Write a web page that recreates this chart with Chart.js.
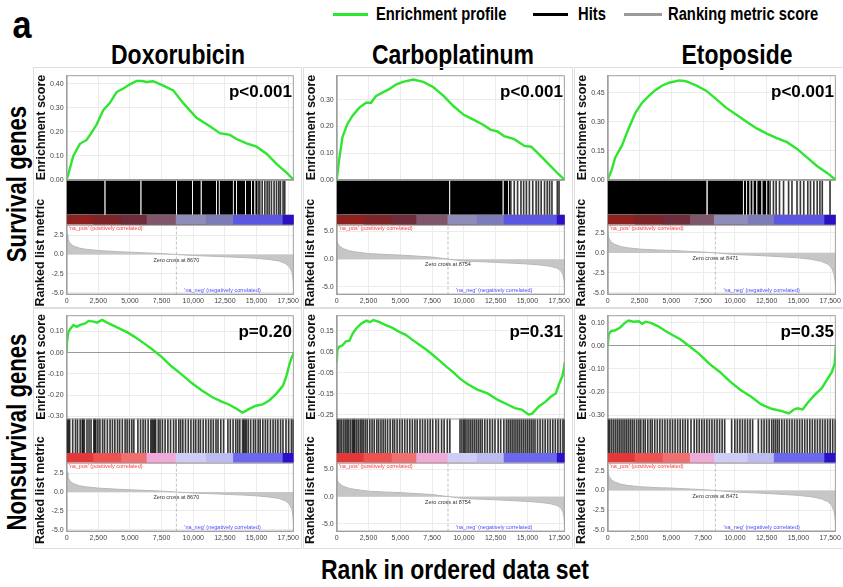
<!DOCTYPE html>
<html>
<head>
<meta charset="utf-8">
<script src="https://cdn.jsdelivr.net/npm/chart.js@4.4.1/dist/chart.umd.min.js"></script>
<style>
  body { margin: 0; background: #fff; }
  #fig { position: relative; width: 843px; height: 587px; overflow: hidden; font-family: 'Liberation Sans', Arial, sans-serif; }
  .lbl { position: absolute; font-weight: bold; white-space: nowrap; color: #000; line-height: 1; }
  .key { position: absolute; height: 3px; }
  canvas { position: absolute; outline: 1px solid #dedede; }
</style>
</head>
<body>
<div id="fig"></div>
<script>
// ---- labels ----
const drugNames = ['Doxorubicin', 'Carboplatinum', 'Etoposide'];
const rowNames = ['Survival genes', 'Nonsurvival genes'];
const pSurvival = ['p<0.001', 'p<0.001', 'p<0.001'];
const pNonsurvival = ['p=0.20', 'p=0.31', 'p=0.35'];
const zeroCross = [8670, 8754, 8471];
const rankLimit = 17950;
const xTicks = [0, 2500, 5000, 7500, 10000, 12500, 15000, 17500];

// ---- enrichment profiles (rank, score) ----
const doxoSurvRank = [0, 130, 526, 1050, 1580, 1850, 2370, 2895, 3420, 3950, 4480, 5000, 5530, 5950, 6315, 6840, 7600, 8420, 9200, 10260, 11315, 12100, 12900, 13420, 14210, 15000, 15790, 16580, 17370, 17950];
const doxoSurvES = [0, 0.024, 0.10, 0.15, 0.166, 0.187, 0.23, 0.29, 0.32, 0.365, 0.38, 0.397, 0.411, 0.411, 0.407, 0.41, 0.393, 0.372, 0.32, 0.258, 0.223, 0.194, 0.187, 0.17, 0.152, 0.138, 0.109, 0.067, 0.03, 0];
const carboSurvRank = [0, 186, 450, 848, 1246, 1777, 2306, 2700, 3100, 3630, 4160, 4693, 5222, 6017, 6812, 7608, 8403, 9200, 9995, 10790, 11585, 12115, 12645, 13175, 13970, 14766, 15296, 15826, 16621, 17416, 17950];
const carboSurvES = [0, 0.075, 0.16, 0.21, 0.24, 0.27, 0.288, 0.288, 0.314, 0.327, 0.34, 0.357, 0.366, 0.375, 0.366, 0.346, 0.314, 0.275, 0.243, 0.224, 0.204, 0.187, 0.181, 0.163, 0.152, 0.127, 0.124, 0.10, 0.062, 0.023, 0];
const etopSurvRank = [0, 53, 318, 583, 1113, 1643, 2174, 2704, 3234, 3764, 4294, 4825, 5620, 6150, 6945, 7741, 8536, 9331, 10127, 10922, 11717, 12513, 13308, 14104, 14899, 15694, 16490, 17285, 17950];
const etopSurvES = [0, 0.009, 0.053, 0.115, 0.177, 0.266, 0.346, 0.399, 0.434, 0.465, 0.488, 0.502, 0.514, 0.51, 0.488, 0.461, 0.417, 0.372, 0.337, 0.301, 0.266, 0.239, 0.216, 0.195, 0.16, 0.115, 0.071, 0.035, 0];
const doxoNonRank = [0, 30, 134, 267, 534, 801, 1068, 1469, 1736, 2136, 2403, 2804, 3205, 3739, 4274, 4808, 5342, 6143, 6677, 7478, 8280, 9081, 9882, 10684, 11485, 12286, 12820, 13354, 13888, 14155, 14423, 14957, 15491, 16025, 16559, 17093, 17360, 17627, 17761, 17950];
const doxoNonES = [0, 0.05, 0.096, 0.111, 0.131, 0.122, 0.131, 0.138, 0.15, 0.147, 0.142, 0.155, 0.142, 0.127, 0.111, 0.096, 0.076, 0.043, 0.02, -0.018, -0.064, -0.102, -0.143, -0.178, -0.209, -0.232, -0.244, -0.262, -0.282, -0.274, -0.265, -0.25, -0.244, -0.224, -0.194, -0.155, -0.11, -0.049, -0.026, 0];
const carboNonRank = [0, 54, 188, 456, 725, 993, 1262, 1531, 1934, 2336, 2605, 2873, 3276, 3813, 4350, 4887, 5424, 5961, 6498, 7035, 7572, 8109, 8646, 9183, 9720, 10257, 11062, 11868, 12673, 13479, 14015, 14552, 15089, 15358, 15895, 16432, 16835, 17237, 17506, 17774, 17950];
const carboNonES = [0, 0.06, 0.073, 0.08, 0.099, 0.102, 0.137, 0.16, 0.184, 0.197, 0.19, 0.2, 0.192, 0.177, 0.164, 0.145, 0.13, 0.106, 0.083, 0.06, 0.034, 0.006, -0.022, -0.048, -0.079, -0.102, -0.13, -0.148, -0.179, -0.202, -0.218, -0.225, -0.248, -0.245, -0.21, -0.187, -0.164, -0.148, -0.102, -0.063, 0];
const etopNonRank = [0, 81, 271, 543, 950, 1357, 1628, 2035, 2442, 2714, 2985, 3392, 3935, 4478, 5020, 5699, 6377, 7191, 8006, 8820, 9634, 10448, 11262, 12076, 12890, 13704, 14246, 14654, 14925, 15332, 15739, 16282, 16825, 17232, 17639, 17850, 17950];
const etopNonES = [0, 0.049, 0.064, 0.066, 0.078, 0.099, 0.109, 0.104, 0.106, 0.095, 0.104, 0.099, 0.085, 0.066, 0.049, 0.028, 0, -0.035, -0.078, -0.113, -0.155, -0.191, -0.219, -0.253, -0.272, -0.282, -0.292, -0.275, -0.27, -0.275, -0.246, -0.212, -0.184, -0.148, -0.113, -0.078, 0];

// enrichment score axis ranges and ticks
const esRangeSurv = [[0, 0.435], [0, 0.391], [0, 0.541]];
const esRangeNon = [[-0.31, 0.177], [-0.267, 0.223], [-0.314, 0.132]];
const doxoSurvTicks = [0, 0.05, 0.10, 0.15, 0.20, 0.25, 0.30, 0.35, 0.40];
const carboSurvTicks = [0, 0.05, 0.10, 0.15, 0.20, 0.25, 0.30, 0.35];
const etopSurvTicks = [0, 0.05, 0.10, 0.15, 0.20, 0.25, 0.30, 0.35, 0.40, 0.45, 0.50];
const doxoNonTicks = [-0.30, -0.25, -0.20, -0.15, -0.10, -0.05, 0, 0.05, 0.10, 0.15];
const carboNonTicks = [-0.25, -0.20, -0.15, -0.10, -0.05, 0, 0.05, 0.10, 0.15, 0.20];
const etopNonTicks = [-0.30, -0.25, -0.20, -0.15, -0.10, -0.05, 0, 0.05, 0.10];

// ---- hits ----
const doxoSurvBlocks = [[0, 3000], [3060, 5840], [5900, 8660], [8720, 9920], [9980, 10600], [10660, 11820], [11880, 12030], [12080, 13140], [13190, 13400], [13450, 14100], [14160, 14580], [14640, 14840], [14900, 15050]];
const doxoSurvLines = [15130, 15260, 15450, 15660, 15840, 16000, 16180, 16390, 16580, 16760, 16890, 17100, 17230];
const carboSurvBlocks = [[0, 8860], [8920, 13060], [13120, 13500], [13550, 13650]];
const carboSurvLines = [13700, 13966, 14230, 14495, 14707, 14920, 15158, 15423, 15688, 15873, 16085, 16350, 16563, 16748, 16934, 17357, 17490];
const etopSurvBlocks = [[0, 7780], [7850, 10640], [10700, 10900], [10960, 11160], [11220, 11400], [11460, 11700], [11760, 12100], [12160, 12480], [12540, 12700]];
const etopSurvLines = [12773, 13038, 13250, 13515, 13833, 14230, 14496, 14893, 15158, 15423, 15741, 15953, 16218, 16483, 16695, 16880, 17490];
const doxoNonLines = [60, 150, 240, 480, 700, 860, 1070, 1230, 1300, 1400, 1610, 1770, 1930, 2150, 2230, 2310, 2470, 2630, 2840, 3000, 3220, 3430, 3620, 3810, 4020, 4190, 4400, 4620, 4780, 4960, 5150, 5310, 5630, 5840, 6040, 6220, 6440, 6650, 6750, 6850, 6950, 7030, 7240, 7380, 7570, 7780, 8000, 8210, 8450, 8640, 8860, 9010, 9180, 9390, 9610, 9820, 10030, 10200, 10410, 10570, 10790, 11000, 11210, 11400, 11590, 11800, 11960, 12180, 12400, 12740, 12930, 13150, 13360, 13520, 13680, 13900, 14000, 14100, 14200, 14350, 14540, 14760, 14920, 15130, 15290, 15500, 15700, 15880, 16100, 16310, 16500, 16690, 16900, 17090, 17330, 17540, 17760, 17900];
const carboNonLines = [40, 130, 260, 400, 560, 700, 820, 950, 1100, 1250, 1330, 1420, 1560, 1700, 1850, 1980, 2100, 2250, 2400, 2600, 2780, 2950, 3150, 3300, 3480, 3650, 3820, 4000, 4200, 4400, 4550, 4750, 4950, 5150, 5350, 5550, 5750, 5950, 6150, 6330, 6550, 6750, 6950, 7150, 7350, 7550, 7800, 8000, 8250, 8450, 8700, 8900, 9700, 9850, 10000, 10100, 10250, 10400, 10550, 10700, 10850, 11000, 11150, 11300, 11450, 11650, 11850, 12050, 12250, 12450, 12700, 12900, 13150, 13350, 13500, 13650, 13800, 13950, 14100, 14250, 14400, 14550, 14700, 14850, 15000, 15150, 15300, 15450, 15600, 15800, 16000, 16200, 16400, 16600, 16800, 17000, 17200, 17400, 17600, 17800, 17920];
const etopNonLines = [50, 150, 300, 450, 600, 750, 900, 1050, 1200, 1350, 1500, 1650, 1800, 1950, 2100, 2280, 2450, 2600, 2800, 2950, 3150, 3350, 3500, 3700, 3900, 4100, 4300, 4500, 4700, 4900, 5100, 5300, 5500, 5700, 5900, 6100, 6300, 6550, 6800, 7000, 7200, 7400, 7600, 7800, 8000, 8200, 8400, 8600, 8800, 9000, 9200, 9750, 10000, 10200, 10400, 10600, 10800, 11000, 11200, 11400, 11850, 12100, 12300, 12500, 12700, 12900, 13050, 13200, 13350, 13500, 13700, 13900, 14100, 14300, 14500, 14700, 14900, 15100, 15300, 15500, 15700, 15900, 16100, 16300, 16500, 16700, 16900, 17100, 17300, 17500, 17700, 17900];

// ---- ranked list metric (shared by both rows of a drug) ----
const metricRanks = [0, 30, 100, 250, 500, 1000, 1500, 2500, 4000, 5000, 6500, 7500, 8600, 10000, 11500, 12500, 14000, 15000, 16000, 16800, 17300, 17600, 17800, 17900, 17950];
const doxoMetric = [3.2, 2.6, 2.0, 1.5, 1.15, 0.85, 0.7, 0.53, 0.38, 0.31, 0.2, 0.13, 0.01, -0.12, -0.22, -0.29, -0.4, -0.5, -0.65, -0.85, -1.2, -1.6, -2.3, -3.5, -5.1];
const carboMetric = [3.6, 3.2, 2.7, 2.3, 1.9, 1.5, 1.3, 1.0, 0.82, 0.73, 0.52, 0.38, 0.05, -0.35, -0.48, -0.58, -0.75, -0.88, -1.05, -1.3, -1.6, -2.0, -2.8, -4.0, -6.3];
const etopMetric = [2.6, 2.2, 1.8, 1.4, 1.1, 0.8, 0.65, 0.47, 0.35, 0.3, 0.18, 0.1, -0.02, -0.2, -0.3, -0.38, -0.52, -0.62, -0.8, -1.05, -1.4, -1.8, -2.6, -3.6, -5.0];
const rankRange = [[-5.25, 3.9], [-6.4, 6.2], [-5.2, 3.5]];
const doxoRankTicks = [-5, -2.5, 0, 2.5];
const carboRankTicks = [-5, -2.5, 0, 2.5, 5];
const etopRankTicks = [-5, -2.5, 0, 2.5];

// colour strip band edges (rank)
const doxoStrip = [0, 2100, 4300, 6300, 8600, 11000, 13150, 17050, 17950];
const carboStrip = [0, 2100, 4300, 6250, 8700, 11000, 13120, 17300, 17950];
const etopStrip = [0, 2100, 4300, 6450, 8350, 11000, 13050, 17030, 17950];

// ---- styles ----
const FONT = "'Liberation Sans', Arial, sans-serif";
const stripLight = ['#e43838', '#ec5252', '#f07070', '#eeaad8', '#cdcdf6', '#bcbcf0', '#6c68ee', '#2a10c6'];
const stripDark = ['#8e2020', '#7c2428', '#6c2c3a', '#80566c', '#8e8cb8', '#7c7cb8', '#5a58e2', '#2a12c2'];
Chart.defaults.font.family = FONT;

const fig = document.getElementById('fig');

function addText(text, x, y, size, opt) {
  opt = opt || {};
  const d = document.createElement('div');
  d.className = 'lbl';
  d.textContent = text;
  d.style.fontSize = size + 'px';
  d.style.left = x + 'px';
  d.style.top = y + 'px';
  const sx = opt.sx || 0.82;
  if (opt.leftAlign) {
    d.style.transformOrigin = '0 50%';
    d.style.transform = 'translateY(-50%) scaleX(' + sx + ')';
  } else {
    d.style.transform = 'translate(-50%,-50%)' + (opt.rotate ? ' rotate(-90deg)' : '') + ' scaleX(' + sx + ')';
  }
  fig.appendChild(d);
}
function addKey(x, y, w, color) {
  const k = document.createElement('div');
  k.className = 'key';
  k.style.left = x + 'px'; k.style.top = y + 'px'; k.style.width = w + 'px'; k.style.background = color;
  fig.appendChild(k);
}

addText('a', 22, 25, 38, { sx: 0.9 });
addKey(333, 13, 35, '#2ee62e');
addText('Enrichment profile', 376, 14, 18, { leftAlign: true });
addKey(533, 13, 35, '#000');
addText('Hits', 578, 14, 18, { leftAlign: true });
addKey(624, 13, 38, '#9a9a9a');
addText('Ranking metric score', 668, 14, 18, { leftAlign: true });
addText(drugNames[0], 178, 55, 28);
addText(drugNames[1], 453, 55, 28);
addText(drugNames[2], 737, 55, 28);
addText(rowNames[0], 17, 184, 27, { rotate: true });
addText(rowNames[1], 17, 432, 27, { rotate: true });
addText('Rank in ordered data set', 455, 570, 28);

// panel annotations: frames, p value, zero-cross notes, metric axis title
const panelText = {
  id: 'panelText',
  afterDraw(chart) {
    const o = chart.options.plugins.panelText;
    const { ctx, chartArea } = chart;
    const x = chart.scales.x, es = chart.scales.yES, rk = chart.scales.yRank;
    ctx.save();
    ctx.strokeStyle = '#a0a0a0';
    ctx.lineWidth = 1;
    ctx.strokeRect(chartArea.left + 0.5, es.top + 0.5, chartArea.width - 1, es.bottom - es.top);
    ctx.strokeRect(chartArea.left + 0.5, rk.top + 0.5, chartArea.width - 1, rk.bottom - rk.top - 1);
    ctx.fillStyle = '#000';
    ctx.font = 'bold 17px ' + FONT;
    ctx.textAlign = 'right';
    ctx.textBaseline = 'middle';
    ctx.fillText(o.p, chartArea.right - 2, es.top + 17);
    // metric axis title, raised a little so it clears the tick row like the original
    ctx.save();
    ctx.translate(rk.left + 7, (rk.top + rk.bottom) / 2 - 7);
    ctx.rotate(-Math.PI / 2);
    ctx.textAlign = 'center';
    ctx.font = 'bold 12.5px ' + FONT;
    ctx.fillStyle = '#111';
    ctx.fillText('Ranked list metric', 0, 0);
    ctx.restore();
    const zx = x.getPixelForValue(o.zc);
    ctx.font = '5.5px ' + FONT;
    ctx.textBaseline = 'top';
    ctx.textAlign = 'left';
    ctx.fillStyle = '#ff3c3c';
    ctx.fillText("'na_pos' (positively correlated)", chartArea.left + 2, rk.top + 1);
    ctx.fillStyle = '#333';
    ctx.textAlign = 'center';
    ctx.fillText('Zero cross at ' + o.zc, zx, rk.getPixelForValue(0) + 3);
    ctx.fillStyle = '#4a4aff';
    ctx.textAlign = 'left';
    ctx.textBaseline = 'bottom';
    ctx.fillText("'na_neg' (negatively correlated)", zx + 8, rk.bottom - 1);
    ctx.restore();
  }
};

const panels = [
  [
    { rank: doxoSurvRank, es: doxoSurvES, range: esRangeSurv[0], ticks: doxoSurvTicks, blocks: doxoSurvBlocks, lines: doxoSurvLines, p: pSurvival[0] },
    { rank: carboSurvRank, es: carboSurvES, range: esRangeSurv[1], ticks: carboSurvTicks, blocks: carboSurvBlocks, lines: carboSurvLines, p: pSurvival[1] },
    { rank: etopSurvRank, es: etopSurvES, range: esRangeSurv[2], ticks: etopSurvTicks, blocks: etopSurvBlocks, lines: etopSurvLines, p: pSurvival[2] }
  ],
  [
    { rank: doxoNonRank, es: doxoNonES, range: esRangeNon[0], ticks: doxoNonTicks, blocks: [], lines: doxoNonLines, p: pNonsurvival[0] },
    { rank: carboNonRank, es: carboNonES, range: esRangeNon[1], ticks: carboNonTicks, blocks: [], lines: carboNonLines, p: pNonsurvival[1] },
    { rank: etopNonRank, es: etopNonES, range: esRangeNon[2], ticks: etopNonTicks, blocks: [], lines: etopNonLines, p: pNonsurvival[2] }
  ]
];
const metrics = [doxoMetric, carboMetric, etopMetric];
const rankTicks = [doxoRankTicks, carboRankTicks, etopRankTicks];
const strips = [doxoStrip, carboStrip, etopStrip];

const colLeft = [34, 304, 575];
const colWidth = [267, 268, 268];
const rowTop = [68, 308];

function tickSetter(values) {
  return scale => { scale.ticks = values.map(v => ({ value: v })); };
}

function buildPanel(row, col) {
  const p = panels[row][col];
  const cv = document.createElement('canvas');
  cv.width = colWidth[col];
  cv.height = 240;
  cv.style.left = colLeft[col] + 'px';
  cv.style.top = rowTop[row] + 'px';
  fig.appendChild(cv);

  const datasets = [];
  datasets.push({
    type: 'line', yAxisID: 'yES',
    data: p.rank.map((r, i) => ({ x: r, y: p.es[i] })),
    borderColor: '#2ee62e', borderWidth: 2.4, pointRadius: 0, fill: false, tension: 0
  });
  p.blocks.forEach(b => datasets.push({
    type: 'line', yAxisID: 'yHits',
    data: [{ x: b[0], y: 1 }, { x: b[1], y: 1 }],
    borderWidth: 0, pointRadius: 0, fill: 'origin', backgroundColor: '#000'
  }));
  datasets.push({
    type: 'bar', yAxisID: 'yHits',
    data: p.lines.map(r => ({ x: r, y: 1 })),
    backgroundColor: 'rgba(0,0,0,0.78)', borderWidth: 0, barThickness: 1
  });
  // each strip band runs from its start edge to the end of the list; later bands are drawn on top
  const edges = strips[col];
  const colors = row === 0 ? stripDark : stripLight;
  const last = edges[edges.length - 1];
  for (let i = edges.length - 2; i >= 0; i--) {
    datasets.push({
      type: 'line', yAxisID: 'yStrip',
      data: [{ x: edges[i], y: 1 }, { x: last, y: 1 }],
      borderWidth: 0, pointRadius: 0, fill: 'origin', backgroundColor: colors[i]
    });
  }
  datasets.push({
    type: 'line', yAxisID: 'yRank',
    data: [{ x: zeroCross[col], y: rankRange[col][0] }, { x: zeroCross[col], y: rankRange[col][1] }],
    borderColor: '#b0b0b0', borderWidth: 0.8, borderDash: [3, 2], pointRadius: 0, fill: false
  });
  datasets.push({
    type: 'line', yAxisID: 'yRank',
    data: metricRanks.map((r, i) => ({ x: r, y: metrics[col][i] })),
    borderColor: '#b8b8b8', borderWidth: 1, pointRadius: 0, fill: 'origin', backgroundColor: '#c6c6c6', tension: 0
  });

  const tickFont = { size: 7, family: FONT };
  const titleFont = { size: 12.5, weight: 'bold', family: FONT };
  const sideAxis = (weight, stackWeight) => ({
    type: 'linear', position: 'left', stack: 'panel', weight, stackWeight, min: 0, max: 1,
    ticks: { display: false }, grid: { display: false }, border: { display: true, color: '#a0a0a0' }
  });

  new Chart(cv.getContext('2d'), {
    type: 'line',
    data: { datasets },
    options: {
      responsive: false, animation: false, devicePixelRatio: 1, events: [],
      layout: { padding: { top: row === 0 ? 7 : 5, right: 6, bottom: row === 0 ? 1 : 4, left: 0 } },
      plugins: { legend: { display: false }, tooltip: { enabled: false }, panelText: { p: p.p, zc: zeroCross[col] } },
      scales: {
        x: {
          type: 'linear', min: 0, max: rankLimit, offset: false,
          afterBuildTicks: tickSetter(xTicks),
          ticks: { font: tickFont, color: '#444', padding: 2, maxRotation: 0, autoSkip: false },
          grid: { color: '#ececec', drawTicks: false, offset: false },
          border: { color: '#a0a0a0' }
        },
        yES: {
          type: 'linear', position: 'left', stack: 'panel', weight: 4, stackWeight: 105,
          min: p.range[0], max: p.range[1],
          afterBuildTicks: tickSetter(p.ticks),
          ticks: { font: tickFont, color: '#444', padding: 3, callback: v => v.toFixed(2) },
          grid: { color: c => (c.tick && c.tick.value === 0 ? '#9a9a9a' : '#ececec'), drawTicks: false },
          border: { color: '#a0a0a0' },
          title: { display: true, text: 'Enrichment score', color: '#111', font: titleFont, padding: { top: 0, bottom: 2 } }
        },
        yHits: sideAxis(3, 35),
        yStrip: sideAxis(2, 10),
        yRank: {
          type: 'linear', position: 'left', stack: 'panel', weight: 1, stackWeight: 70,
          min: rankRange[col][0], max: rankRange[col][1],
          afterBuildTicks: tickSetter(rankTicks[col]),
          ticks: { font: tickFont, color: '#444', padding: 3, callback: v => v.toFixed(1) },
          grid: { color: '#ececec', drawTicks: false },
          border: { color: '#a0a0a0' },
          // space is kept for the title; the text itself is drawn by panelText
          title: { display: true, text: 'Ranked list metric', color: 'rgba(0,0,0,0)', font: titleFont, padding: { top: 0, bottom: 2 } }
        }
      }
    },
    plugins: [panelText]
  });
}

for (let r = 0; r < 2; r++) {
  for (let c = 0; c < 3; c++) buildPanel(r, c);
}
</script>
</body>
</html>
